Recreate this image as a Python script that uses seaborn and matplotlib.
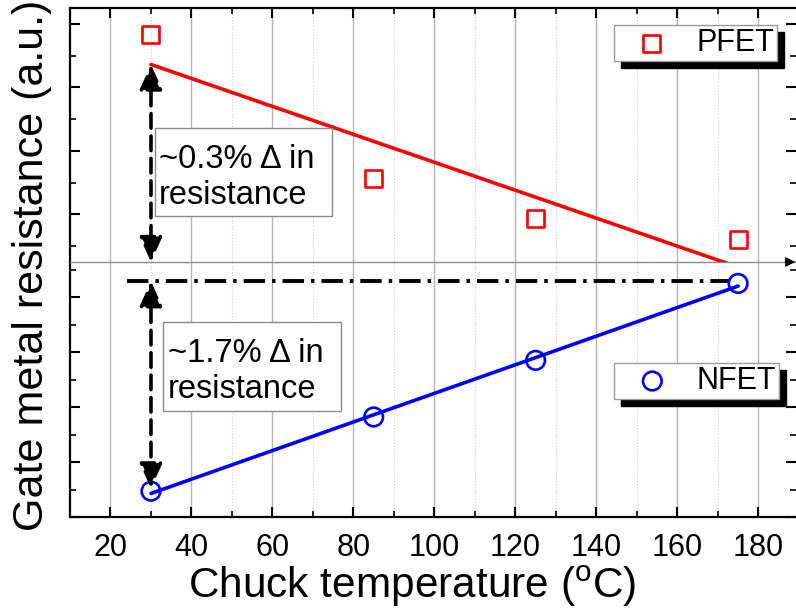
import numpy as np
import pandas as pd
import matplotlib
matplotlib.use('Agg')
import matplotlib.pyplot as plt
import seaborn as sns
from matplotlib.patches import Rectangle, Shadow, ArrowStyle
from matplotlib.ticker import MultipleLocator, FixedLocator

# ---------------- data ----------------
temperature = [30, 85, 125, 175]                 # chuck temperature (°C)
pfet_resistance = [3.59, 1.31, 0.69, 0.36]       # a.u. (upper panel)
nfet_resistance = [0.47, 1.82, 2.85, 4.25]       # a.u. (lower panel)
series_labels = ['PFET', 'NFET']
x_major_ticks = [20, 40, 60, 80, 100, 120, 140, 160, 180]
pfet_note = '~0.3% \u0394 in\nresistance'
nfet_note = '~1.7% \u0394 in\nresistance'
reference_level = 4.29          # dash-dot reference level (lower panel)
reference_span = [24, 173]      # x extent of the dash-dot line

sns.set_theme(style='ticks', rc={
    'text.color': 'black', 'axes.labelcolor': 'black',
    'xtick.color': 'black', 'ytick.color': 'black',
    'axes.edgecolor': 'black'})
plt.rcParams['font.family'] = ['Liberation Sans', 'DejaVu Sans']

df = pd.DataFrame({'temp': temperature,
                   series_labels[0]: pfet_resistance,
                   series_labels[1]: nfet_resistance})

fig = plt.figure(figsize=(7.96, 6.14), dpi=100)
left, width = 70 / 796, 726 / 796
ax_b = fig.add_axes([left, 1 - 517 / 614, width, 255 / 614])
ax_t = fig.add_axes([left, 1 - 262 / 614, width, 254 / 614])
ax_t.patch.set_alpha(0)

for ax in (ax_t, ax_b):
    ax.set_xlim(10, 189.3)
    ax.xaxis.set_major_locator(FixedLocator(x_major_ticks))
    ax.xaxis.set_minor_locator(MultipleLocator(10))
    ax.set_axisbelow(True)
    ax.grid(True, axis='x', which='major', color='#b4b4b4', lw=1.0)
    ax.grid(True, axis='x', which='minor', color='#cfcfcf', lw=0.8, ls=':')
    ax.grid(False, axis='y')
    ax.spines['right'].set_visible(False)
    ax.spines['left'].set_linewidth(1.6)
    ax.tick_params(which='major', length=7, width=1.5)
    ax.tick_params(which='minor', length=4, width=1.2)
    ax.tick_params(axis='y', which='both', direction='in', left=True, right=True,
                   labelleft=False, labelright=False)

# top panel (PFET)
ax_t.set_ylim(0, 4.0)
ax_t.yaxis.set_major_locator(FixedLocator([0.75, 1.75, 2.75, 3.75]))
ax_t.yaxis.set_minor_locator(FixedLocator([0.25, 1.25, 2.25, 3.25]))
ax_t.tick_params(axis='x', which='both', direction='in', top=True, bottom=False,
                 labelbottom=False, labeltop=False)
ax_t.spines['top'].set_linewidth(1.6)
ax_t.spines['bottom'].set_color('#8c8c8c')
ax_t.spines['bottom'].set_linewidth(1.0)

# bottom panel (NFET)
ax_b.set_ylim(0, 4.64)
ax_b.yaxis.set_major_locator(MultipleLocator(1))
ax_b.yaxis.set_minor_locator(MultipleLocator(0.5))
ax_b.tick_params(axis='x', which='both', direction='in', top=False, bottom=True,
                 labelbottom=True, labelsize=22, pad=11.5)
ax_b.spines['top'].set_visible(False)
ax_b.spines['bottom'].set_linewidth(1.6)

# fits
sns.regplot(data=df, x='temp', y=series_labels[0], ax=ax_t, scatter=False, ci=None,
            line_kws=dict(color='#ff0000', lw=2.6, zorder=3))
sns.regplot(data=df, x='temp', y=series_labels[1], ax=ax_b, scatter=False, ci=None,
            line_kws=dict(color='#0000ff', lw=2.6, zorder=3))
# markers
sns.scatterplot(data=df, x='temp', y=series_labels[0], ax=ax_t, marker='s', s=150,
                facecolor='none', edgecolor='#ff0000', linewidth=1.9,
                label=series_labels[0], zorder=4)
sns.scatterplot(data=df, x='temp', y=series_labels[1], ax=ax_b, marker='o', s=180,
                facecolor='none', edgecolor='#0000ff', linewidth=1.9,
                label=series_labels[1], zorder=4)

for ax in (ax_t, ax_b):
    ax.set_xlabel('')
    ax.set_ylabel('')

ax_b.set_xlabel(r'Chuck temperature ($\mathregular{^o}$C)', fontsize=30.5)
ax_b.xaxis.set_label_coords(0.471, -0.185)
fig.text(0.040, 0.568, 'Gate metal resistance (a.u.)', rotation=90,
         ha='center', va='center', fontsize=31)

# legends with black offset shadow
for ax, anchor in ((ax_t, (0.974, 0.933)), (ax_b, (0.977, 0.604))):
    leg = ax.legend(loc='upper right', bbox_to_anchor=anchor, borderaxespad=0,
                    fontsize=22, frameon=True, fancybox=False, framealpha=1,
                    edgecolor='#9a9a9a', borderpad=0.1, handlelength=2.3,
                    handletextpad=0.3, scatterpoints=1)
    leg.get_frame().set_linewidth(1.0)
    sh = Shadow(leg.legendPatch, 5, -5, facecolor='black', edgecolor='black',
                alpha=1, zorder=4.9)
    ax.add_artist(sh)

# dash-dot reference line
ax_b.plot(reference_span, [reference_level, reference_level], color='black', lw=2.8,
          ls=(0, (5.5, 1.8, 0.9, 1.8)), zorder=3)

# dashed double arrows
p_fit = np.polyfit(temperature, pfet_resistance, 1)
p_start = np.polyval(p_fit, temperature[0])
astyle = ArrowStyle('<|-|>', head_length=0.42, head_width=0.19)
arrow_kw = dict(arrowstyle=astyle, linestyle=(0, (4, 2.2)), lw=2.6, color='black',
                shrinkA=0, shrinkB=0, mutation_scale=36)
ax_t.annotate('', xy=(temperature[0], 0), xytext=(temperature[0], p_start),
              arrowprops=arrow_kw, annotation_clip=False, zorder=5)
ax_b.annotate('', xy=(temperature[0], nfet_resistance[0] + 0.05),
              xytext=(temperature[0], reference_level),
              arrowprops=arrow_kw, annotation_clip=False, zorder=5)

# separator arrow head at right end
ax_t.annotate('', xy=(0.999, 0), xytext=(0.985, 0), xycoords='axes fraction',
              arrowprops=dict(arrowstyle='-|>', color='black', lw=0.8, shrinkA=0,
                              shrinkB=0, mutation_scale=15), annotation_clip=False)

# annotation boxes
ax_t.add_patch(Rectangle((0.117, 0.181), 0.244, 0.347, transform=ax_t.transAxes,
                         facecolor='white', edgecolor='#8a8a8a', lw=1.0, zorder=5.5))
ax_t.text(0.1226, 0.465, pfet_note, transform=ax_t.transAxes, fontsize=23.5,
          ha='left', va='top', linespacing=1.2, zorder=6)
ax_b.add_patch(Rectangle((0.128, 0.416), 0.245, 0.349, transform=ax_b.transAxes,
                         facecolor='white', edgecolor='#8a8a8a', lw=1.0, zorder=5.5))
ax_b.text(0.135, 0.700, nfet_note, transform=ax_b.transAxes, fontsize=23.5,
          ha='left', va='top', linespacing=1.2, zorder=6)

fig.canvas.draw()
fig.savefig('out.png', dpi=100)
